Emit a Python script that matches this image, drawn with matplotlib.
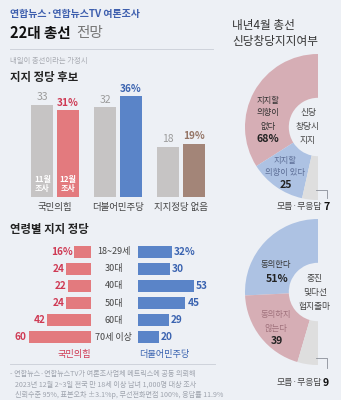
import matplotlib
matplotlib.use("Agg")
import matplotlib.pyplot as plt
import numpy as np

plt.rcParams['font.family'] = ['Noto Sans CJK KR', 'DejaVu Sans']

# ---------------- data ----------------
party_cats = ['국민의힘', '더불어민주당', '지지정당 없음']
nov_vals = [33, 32, 18]
dec_vals = [31, 36, 19]

ages = ['18~29세', '30대', '40대', '50대', '60대', '70세 이상']
ppp_by_age = [16, 24, 22, 24, 42, 60]
dem_by_age = [32, 30, 53, 45, 29, 20]

newparty_labels = ['지지할 의향이 없다', '지지할 의향이 있다', '모름·무응답']
newparty_vals = [68, 25, 7]

senior_labels = ['동의한다', '동의하지 않는다', '모름·무응답']
senior_vals = [51, 39, 9]

# ---------------- style ----------------
W, H = 341, 400
BG = '#edf0f5'
GRAY_BAR = '#c6c4c4'
RED_BAR = '#e37a7e'
BLUE_BAR = '#5a84c8'
BROWN_BAR = '#a38578'
RED_TXT = '#cf3a54'
BLUE_TXT = '#3a63b0'
BROWN_TXT = '#957566'
GRAY_TXT = '#9b9b9b'
PINK_D = '#d6aeb5'
BLUE_D = '#adc2e3'
GRAY_D = '#dedede'
DARK = '#333333'

fig = plt.figure(figsize=(W / 100, H / 100), dpi=100, facecolor=BG)


def box(x0, y0, x1, y1):
    return [x0 / W, 1 - y1 / H, (x1 - x0) / W, (y1 - y0) / H]


# ---------------- party bar chart ----------------
ax = fig.add_axes(box(10, 85, 215, 197))
ax.set_facecolor('none')
x = np.arange(len(party_cats))
ax.bar(x - 0.2, nov_vals, 0.35, color=GRAY_BAR)
ax.bar(x + 0.2, dec_vals, 0.35, color=[RED_BAR, BLUE_BAR, BROWN_BAR])
dec_txt_cols = [RED_TXT, BLUE_TXT, BROWN_TXT]
for i, (a, b) in enumerate(zip(nov_vals, dec_vals)):
    ax.text(x[i] - 0.2, a + 0.9, str(a), ha='center', va='bottom', color=GRAY_TXT, fontsize=7.5)
    ax.text(x[i] + 0.2, b + 0.9, f'{b}%', ha='center', va='bottom', color=dec_txt_cols[i],
            fontsize=7.3, fontweight='bold')
ax.text(x[0] - 0.2, 4.7, '11월\n조사', ha='center', va='center', color='white', fontsize=5.8,
        fontweight='bold', linespacing=1.05)
ax.text(x[0] + 0.2, 4.7, '12월\n조사', ha='center', va='center', color='white', fontsize=5.8,
        fontweight='bold', linespacing=1.05)
ax.set_xlim(-0.714, 2.54)
ax.set_ylim(0, 40)
ax.set_xticks(x)
ax.set_xticklabels(party_cats, fontsize=6.8, color='#444444')
ax.tick_params(axis='x', length=0, pad=4)
ax.set_yticks([])
for s in ax.spines.values():
    s.set_visible(False)

# ---------------- age butterfly ----------------
axl = fig.add_axes(box(10, 243, 91, 346))
axr = fig.add_axes(box(138, 243, 215, 346))
yy = np.arange(len(ages))
axl.barh(yy, ppp_by_age, height=0.7, color=RED_BAR)
axr.barh(yy, dem_by_age, height=0.7, color=BLUE_BAR)
axl.set_xlim(78, 0)
axr.set_xlim(0, 73)
for a in (axl, axr):
    a.set_ylim(5.5, -0.5)
    a.set_facecolor('none')
    a.set_xticks([])
    a.set_yticks([])
    for s in a.spines.values():
        s.set_visible(False)
axl.axvline(0, color='#c9ccd2', lw=0.6)
for i, v in enumerate(ppp_by_age):
    axl.text(v + 1.8, i, f'{v}%' if i == 0 else str(v), ha='right', va='center', color=RED_TXT,
             fontsize=7.3, fontweight='bold')
for i, v in enumerate(dem_by_age):
    axr.text(v + 1.8, i, f'{v}%' if i == 0 else str(v), ha='left', va='center', color=BLUE_TXT,
             fontsize=7.3, fontweight='bold')
for i, lab in enumerate(ages):
    axr.text(-22.9, i, lab, ha='center', va='center', color='#444444', fontsize=6.5, clip_on=False)

# ---------------- donuts ----------------
def donut(bx, vals, cols):
    a = fig.add_axes(box(*bx))
    a.pie(list(vals) + [sum(vals)], colors=list(cols) + ['none'], startangle=90, counterclock=True,
          radius=1, wedgeprops=dict(width=0.6, linewidth=0))
    a.set_xlim(-1, 1)
    a.set_ylim(-1, 1)
    a.set_aspect('equal')
    a.axis('off')
    return a

donut((245, 54, 391, 200), newparty_vals, [PINK_D, BLUE_D, GRAY_D])
donut((245, 219, 391, 365), senior_vals, [BLUE_D, PINK_D, GRAY_D])

# ---------------- overlay text ----------------
ov = fig.add_axes([0, 0, 1, 1])
ov.set_xlim(0, W)
ov.set_ylim(H, 0)
ov.axis('off')

ov.text(10, 14, '연합뉴스·연합뉴스TV 여론조사', ha='left', va='center', color='#3e5fae',
        fontsize=7.2, fontweight='bold')
ov.text(10, 33, '22대 총선', ha='left', va='center', color='#111111', fontsize=10.5, fontweight='bold')
ov.text(76, 33, '전망', ha='left', va='center', color='#777777', fontsize=10.5, fontweight='light')
ov.plot([10, 213], [49, 49], color='#cfd3db', lw=0.7)

ov.text(10, 61, '내일이 총선이라는 가정시', ha='left', va='center', color='#a8abb2', fontsize=5.3)
ov.text(10, 78, '지지 정당 후보', ha='left', va='center', color='#222222', fontsize=8.2, fontweight='bold')

ov.text(10, 230, '연령별 지지 정당', ha='left', va='center', color='#222222', fontsize=8.2, fontweight='bold')
ov.text(74, 354, '국민의힘', ha='center', va='center', color=RED_TXT, fontsize=6.6)
ov.text(164, 354, '더불어민주당', ha='center', va='center', color=BLUE_TXT, fontsize=6.6)

ov.plot([10, 215], [364, 364], color='#cfd3db', lw=0.7)
ov.text(10, 374, '- 연합뉴스·연합뉴스TV가 여론조사업체 메트릭스에 공동 의뢰해', ha='left', va='center',
        color='#9ea3ad', fontsize=5.1)
ov.text(15, 385, '2023년 12월 2~3일 전국 만 18세 이상 남녀 1,000명 대상 조사', ha='left', va='center',
        color='#9ea3ad', fontsize=5.1)
ov.text(15, 395, '신뢰수준 95%, 표본오차 ±3.1%p, 무선전화면접 100%, 응답률 11.9%', ha='left', va='center',
        color='#9ea3ad', fontsize=5.1)

# right panel titles
ov.text(232, 26, '내년4월 총선', ha='left', va='center', color=DARK, fontsize=8.4)
ov.text(232, 41, '신당창당지지여부', ha='left', va='center', color=DARK, fontsize=8.4)

# donut 1 labels
for t, yv in zip(['지지할', '의향이', '없다'], [100, 113, 126]):
    ov.text(268, yv, t, ha='center', va='center', color=DARK, fontsize=6.0)
ov.text(268, 139, f'{newparty_vals[0]}%', ha='center', va='center', color='#222222', fontsize=7.6,
        fontweight='bold')
for t, yv in zip(['신당', '창당시', '지지'], [113, 127, 140]):
    ov.text(308, yv, t, ha='center', va='center', color='#444444', fontsize=6.3)
for t, yv in zip(['지지할', '의향이 있다'], [160, 172]):
    ov.text(285, yv, t, ha='center', va='center', color='#5d6e96', fontsize=6.0)
ov.text(286, 185, str(newparty_vals[1]), ha='center', va='center', color='#222222', fontsize=7.6,
        fontweight='bold')
ov.plot([316, 327, 327], [190, 190, 198], color='#8a8f98', lw=0.6)
ov.text(322, 207, '모름·무응답', ha='right', va='center', color='#444444', fontsize=6.4)
ov.text(323, 207, str(newparty_vals[2]), ha='left', va='center', color='#111111', fontsize=7.6,
        fontweight='bold')

# donut 2 labels
ov.text(276, 265, '동의한다', ha='center', va='center', color=DARK, fontsize=6.0)
ov.text(277, 279, f'{senior_vals[0]}%', ha='center', va='center', color='#222222', fontsize=7.6,
        fontweight='bold')
for t, yv in zip(['중진', '및다선', '험지출마'], [278, 292, 306]):
    ov.text(315, yv, t, ha='center', va='center', color='#444444', fontsize=6.3)
for t, yv in zip(['동의하지', '않는다'], [315, 328]):
    ov.text(276, yv, t, ha='center', va='center', color='#a0727c', fontsize=6.0)
ov.text(277, 341, str(senior_vals[1]), ha='center', va='center', color='#222222', fontsize=7.6,
        fontweight='bold')
ov.plot([316, 327, 327], [358, 358, 368], color='#8a8f98', lw=0.6)
ov.text(322, 383, '모름·무응답', ha='right', va='center', color='#444444', fontsize=6.4)
ov.text(323, 383, str(senior_vals[2]), ha='left', va='center', color='#111111', fontsize=7.6,
        fontweight='bold')

fig.savefig('out.png', dpi=100, facecolor=BG)
